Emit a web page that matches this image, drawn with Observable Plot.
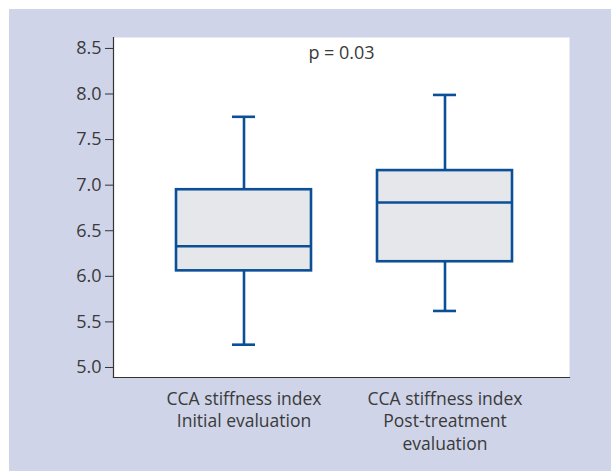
<!DOCTYPE html>
<html>
<head>
<meta charset="utf-8">
<script src="https://cdn.jsdelivr.net/npm/d3@7"></script>
<script src="https://cdn.jsdelivr.net/npm/@observablehq/plot@0.6"></script>
<style>
  html, body { margin: 0; padding: 0; background: #ffffff; }
  #wrap { position: absolute; left: 9px; top: 9px; width: 602px; height: 462px; background: #cfd4e8; }
</style>
</head>
<body>
<div id="wrap"></div>
<script>
const categories = ["CCA stiffness index\nInitial evaluation", "CCA stiffness index\nPost-treatment\nevaluation"];
const mins = [5.25, 5.62];
const q1s = [6.06, 6.16];
const medians = [6.33, 6.81];
const q3s = [6.95, 7.16];
const maxs = [7.75, 7.99];
const yTicks = [5.0, 5.5, 6.0, 6.5, 7.0, 7.5, 8.0, 8.5];
const annotation = "p = 0.03";

const data = categories.map((c, i) => ({cat: c, min: mins[i], q1: q1s[i], med: medians[i], q3: q3s[i], max: maxs[i]}));

const stroke = "#0b4f97";
const fill = "#e5e7ea";
const font = "'Open Sans', sans-serif";
const textColor = "#3a3a3a";

const chart = Plot.plot({
  width: 602,
  height: 462,
  marginLeft: 104,
  marginRight: 42,
  marginTop: 28,
  marginBottom: 94,
  style: {background: "#cfd4e8", fontFamily: font, color: textColor},
  x: {domain: categories, paddingInner: 0.33, paddingOuter: 0.2965, align: 0.523, axis: null},
  y: {domain: [4.89, 8.62], axis: null},
  marks: [
    Plot.frame({fill: "white", stroke: "none"}),
    Plot.frame({anchor: "left", stroke: "#333", strokeWidth: 1.2}),
    Plot.frame({anchor: "bottom", stroke: "#333", strokeWidth: 1.2}),
    Plot.axisY({ticks: yTicks, tickFormat: d3.format(".1f"), tickSize: 8, tickPadding: 4, fontSize: 18, fill: textColor, stroke: "#333", label: null}),
    Plot.axisX({tickSize: 0, tickPadding: 11, fontSize: 17.5, lineHeight: 1.3, fill: textColor, textAnchor: "middle", label: null}),
    Plot.ruleX(data, {x: "cat", y1: "min", y2: "q1", stroke, strokeWidth: 2.6}),
    Plot.ruleX(data, {x: "cat", y1: "q3", y2: "max", stroke, strokeWidth: 2.6}),
    Plot.tickY(data, {x: "cat", y: "min", stroke, strokeWidth: 2.6, insetLeft: 56, insetRight: 56}),
    Plot.tickY(data, {x: "cat", y: "max", stroke, strokeWidth: 2.6, insetLeft: 56, insetRight: 56}),
    Plot.barY(data, {x: "cat", y1: "q1", y2: "q3", fill, stroke, strokeWidth: 2.6}),
    Plot.tickY(data, {x: "cat", y: "med", stroke, strokeWidth: 2.6}),
    Plot.text([annotation], {text: d => d, frameAnchor: "top", lineAnchor: "top", dy: 9, fontSize: 18, fill: textColor, style: "letter-spacing:0.5px"})
  ]
});

document.getElementById("wrap").appendChild(chart);
</script>
</body>
</html>
